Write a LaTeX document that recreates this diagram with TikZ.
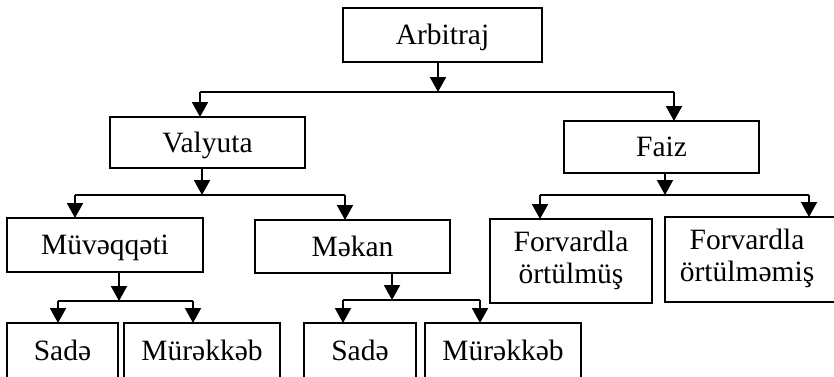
\documentclass[tikz,border=0pt]{standalone}
\usepackage{fontspec}
\setmainfont{Liberation Serif}
\usetikzlibrary{arrows.meta}

\begin{document}
\begin{tikzpicture}[x=1pt, y=-1pt,
    box/.style={draw, line width=2pt, inner sep=0pt, outer sep=0pt,
      font=\fontsize{29.5}{32}\selectfont, text height=23pt, text depth=4pt},
    tallbox/.style={draw, line width=2pt, inner sep=0pt, outer sep=0pt,
      font=\fontsize{29.5}{32}\selectfont},
    link/.style={line width=2pt},
    arr/.style={line width=2pt, -{Triangle[width=16pt, length=15pt]}}]

  % page area
  \path[fill=white, use as bounding box] (0,0) rectangle (834,376);

  % boxes
  \node[box, minimum width=199pt, minimum height=54pt] (arb) at (442.5,35) {Arbitraj};
  \node[box, minimum width=195pt, minimum height=51pt] (val) at (207.5,142.5) {Valyuta};
  \node[box, minimum width=195pt, minimum height=52pt] (faiz) at (661.5,147) {Faiz};
  \node[box, minimum width=196pt, minimum height=54pt] (muv) at (105,245) {Müvəqqəti};
  \node[box, minimum width=195pt, minimum height=53pt] (mek) at (352.5,246.5) {Məkan};
  \node[tallbox, minimum width=162pt, minimum height=84pt] (fwa) at (571,261)
    {\begin{tabular}{@{}c@{}}Forvardla\\örtülmüş\end{tabular}};
  \node[tallbox, minimum width=180pt, minimum height=85pt] (fwb) at (755,259.5)
    {\begin{tabular}{@{}c@{}}Forvardla\\örtülməmiş\end{tabular}\hspace*{16pt}};
  \node[box, minimum width=111pt, minimum height=56pt] (sa1) at (62.5,351) {Sadə};
  \node[box, minimum width=156pt, minimum height=56pt] (mu1) at (202,351) {Mürəkkəb};
  \node[box, minimum width=112pt, minimum height=56pt] (sa2) at (360,351) {Sadə};
  \node[box, minimum width=156pt, minimum height=56pt] (mu2) at (503,351) {Mürəkkəb};

  % junction points on the branch lines
  \coordinate (j1) at (438,92);  \coordinate (a1) at (200,92);  \coordinate (b1) at (674,92);
  \coordinate (j2) at (202,195); \coordinate (a2) at (75,195);  \coordinate (b2) at (345,195);
  \coordinate (j3) at (665,195); \coordinate (a3) at (540,195); \coordinate (b3) at (809,195);
  \coordinate (j4) at (119,301); \coordinate (a4) at (58,301);  \coordinate (b4) at (193,301);
  \coordinate (j5) at (392,300); \coordinate (a5) at (343,300); \coordinate (b5) at (480,300);

  % Arbitraj -> Valyuta, Faiz
  \draw[arr] (arb.south -| j1) -- (j1);
  \draw[link] (a1) -- (b1);
  \draw[arr] (a1) -- (a1 |- val.north);
  \draw[arr] (b1) -- (b1 |- faiz.north);

  % Valyuta -> Müvəqqəti, Məkan
  \draw[arr] (val.south -| j2) -- (j2);
  \draw[link] (a2) -- (b2);
  \draw[arr] (a2) -- (a2 |- muv.north);
  \draw[arr] (b2) -- (b2 |- mek.north);

  % Faiz -> Forvardla
  \draw[arr] (faiz.south -| j3) -- (j3);
  \draw[link] (a3) -- (b3);
  \draw[arr] (a3) -- (a3 |- fwa.north);
  \draw[arr] (b3) -- (b3 |- fwb.north);

  % Müvəqqəti -> Sadə, Mürəkkəb
  \draw[arr] (muv.south -| j4) -- (j4);
  \draw[link] (a4) -- (b4);
  \draw[arr] (a4) -- (a4 |- sa1.north);
  \draw[arr] (b4) -- (b4 |- mu1.north);

  % Məkan -> Sadə, Mürəkkəb
  \draw[arr] (mek.south -| j5) -- (j5);
  \draw[link] (a5) -- (b5);
  \draw[arr] (a5) -- (a5 |- sa2.north);
  \draw[arr] (b5) -- (b5 |- mu2.north);
\end{tikzpicture}
\end{document}
